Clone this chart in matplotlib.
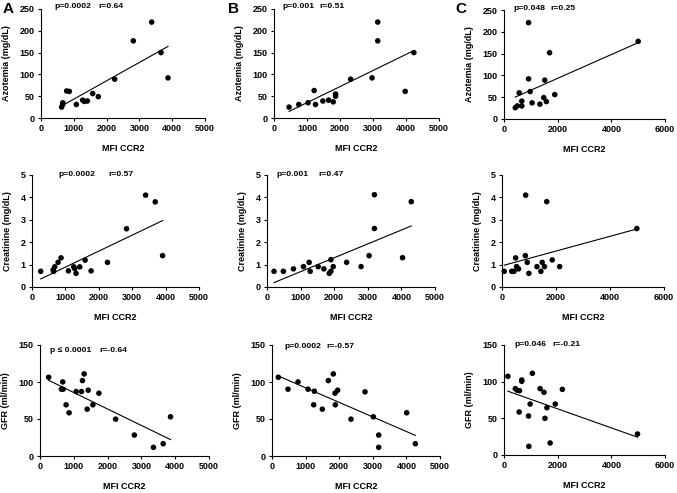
import matplotlib
matplotlib.use('Agg')
import matplotlib.pyplot as plt
import numpy as np

plt.rcParams['font.family'] = ['Liberation Sans', 'DejaVu Sans']
plt.rcParams['font.weight'] = 'bold'
plt.rcParams['axes.labelweight'] = 'bold'

# ---------------------------------Data---------------------------------
# Azotemia (mg/dL) v MFI CCR2
azoA_x = [630, 660, 665, 782, 864, 1077, 1270, 1321, 1413, 1575, 1748, 2246, 2815, 3374, 3658, 3872]
azoA_y = [25, 31, 35, 62, 61, 31, 41, 38, 39, 56, 49, 89, 177, 220, 150, 92]
azoB_x = [456, 751, 1034, 1217, 1258, 1481, 1653, 1795, 1866, 1866, 2323, 2972, 3144, 3144, 3976, 4239]
azoB_y = [25, 31, 35, 63, 31, 39, 41, 37, 50, 55, 89, 92, 220, 177, 61, 150]
azoC_x = [422, 494, 566, 663, 663, 916, 916, 976, 1048, 1337, 1482, 1518, 1578, 1699, 1892, 5000]
azoC_y = [26, 30, 60, 41, 30, 221, 92, 63, 37, 34, 49, 89, 40, 152, 56, 178]

# Creatinine (mg/dL) v MFI CCR2
creA_x = [260, 630, 650, 680, 780, 870, 1090, 1250, 1280, 1320, 1430, 1590, 1770, 2260, 2830, 3400, 3690, 3910]
creA_y = [0.70, 0.76, 0.70, 0.90, 1.10, 1.30, 0.72, 0.90, 0.82, 0.61, 0.90, 1.20, 0.72, 1.10, 2.60, 4.10, 3.80, 1.40]
creB_x = [209, 488, 787, 1086, 1255, 1285, 1524, 1693, 1853, 1902, 1902, 1972, 2370, 2799, 3038, 3197, 3197, 4034, 4293]
creB_y = [0.70, 0.70, 0.81, 0.91, 1.10, 0.70, 0.91, 0.81, 0.61, 0.70, 1.22, 0.91, 1.10, 0.91, 1.40, 4.12, 2.61, 1.31, 3.81]
creC_x = [84, 360, 444, 504, 540, 612, 864, 876, 936, 996, 1296, 1440, 1488, 1572, 1656, 1860, 2136, 4994]
creC_y = [0.70, 0.70, 0.70, 1.30, 0.91, 0.81, 1.40, 4.10, 1.10, 0.61, 0.91, 0.70, 1.10, 0.91, 3.81, 1.21, 0.91, 2.61]

# GFR (ml/min) v MFI CCR2
gfrA_x = [257, 634, 683, 673, 772, 861, 1069, 1228, 1257, 1307, 1396, 1426, 1564, 1743, 2238, 2792, 3356, 3644, 3861]
gfrA_y = [106.4, 90.3, 90.3, 100.1, 69.2, 58.4, 87.1, 87.1, 101.9, 110.9, 63.3, 88.9, 69.2, 84.9, 49.8, 28.3, 11.7, 16.6, 53.0]
gfrB_x = [188, 476, 774, 1071, 1260, 1240, 1498, 1677, 1825, 1875, 1954, 1885, 2351, 2768, 3016, 3175, 3175, 4008, 4266]
gfrB_y = [106.4, 90.3, 100.1, 90.3, 87.6, 69.2, 63.3, 101.9, 110.9, 84.9, 88.9, 69.2, 49.8, 86.7, 53.0, 28.3, 11.7, 58.4, 16.6]
gfrC_x = [144, 421, 493, 577, 565, 661, 661, 913, 925, 974, 1058, 1346, 1490, 1526, 1599, 1719, 1911, 2175, 4976]
gfrC_y = [107.3, 90.5, 88.2, 87.7, 58.6, 102.3, 100.5, 53.2, 11.8, 69.5, 111.4, 90.5, 85.5, 50, 64.5, 16.4, 69.5, 89.5, 28.6]

pLabels = ['p=0.0002', 'p=0.001', 'p=0.048',
           'p=0.0002', 'p=0.001', '',
           'p \u2264 0.0001', 'p=0.0002', 'p=0.046']
rLabels = ['r=0.64', 'r=0.51', 'r=0.25',
           'r=0.57', 'r=0.47', '',
           'r=-0.64', 'r=-0.57', 'r=-0.21']

# Parameters
W, H = 677, 493
fs = 6.5
fsText = 6.1
size = 16
lnwidth = 0.8

fig = plt.figure(figsize=(W/100, H/100), dpi=100)

# axes boxes in pixels: left, right, top, bottom
boxes = [
    (41, 205, 9, 118), (274, 439, 9, 118), (504, 665, 10, 119),
    (32, 199, 175, 287), (267, 435, 175, 287), (502, 664, 175, 287),
    (40, 209, 345, 456), (272, 440, 345, 456), (504, 665, 345, 455),
]
# text positions in pixels: p left, r left, y
textPos = [
    (54, 98, 7), (282, 319, 7), (513, 550, 9),
    (58, 108, 175), (276, 318, 175), (0, 0, 0),
    (50, 99, 350), (284, 326, 346), (514, 552, 344),
]

data = [(azoA_x, azoA_y), (azoB_x, azoB_y), (azoC_x, azoC_y),
        (creA_x, creA_y), (creB_x, creB_y), (creC_x, creC_y),
        (gfrA_x, gfrA_y), (gfrB_x, gfrB_y), (gfrC_x, gfrC_y)]
ylabels = ['Azotemia (mg/dL)'] * 3 + ['Creatinine (mg/dL)'] * 3 + ['GFR (ml/min)'] * 3
ylims = [250] * 3 + [5] * 3 + [150] * 3
yticks = [np.arange(0, 251, 50)] * 3 + [np.arange(0, 6, 1)] * 3 + [np.arange(0, 151, 50)] * 3

for i, (l, r, t, b) in enumerate(boxes):
    ax = fig.add_axes([l/W, 1-b/H, (r-l)/W, (b-t)/H])
    x, y = np.array(data[i][0]), np.array(data[i][1])
    ax.scatter(x, y, s=size, c='black', edgecolors='none', zorder=3, clip_on=False)

    # linear fit
    a, c = np.polyfit(x, y, 1)
    xf = np.array([x.min(), x.max()])
    ax.plot(xf, a*xf + c, 'k-', linewidth=lnwidth)

    col = i % 3
    if col == 2:
        ax.set_xlim(0, 6000)
        ax.set_xticks([0, 2000, 4000, 6000])
    else:
        ax.set_xlim(0, 5000)
        ax.set_xticks(np.arange(0, 5001, 1000))
    ax.set_ylim(0, ylims[i])
    ax.set_yticks(yticks[i])
    for s in ['top', 'right']:
        ax.spines[s].set_visible(False)
    for s in ['left', 'bottom']:
        ax.spines[s].set_linewidth(0.8)
    ax.tick_params(direction='out', length=2.5, width=0.8, labelsize=fs, pad=2)
    for lab in ax.get_xticklabels() + ax.get_yticklabels():
        lab.set_fontweight('bold')
    ax.set_xlabel('MFI CCR2', fontsize=fs, labelpad=8)
    ax.set_ylabel(ylabels[i], fontsize=fs, labelpad=6)

    if pLabels[i]:
        px, rx, ty = textPos[i]
        fig.text(px/W, 1-ty/H, pLabels[i], fontsize=fsText, fontweight='bold', va='center')
        fig.text(rx/W, 1-ty/H, rLabels[i], fontsize=fsText, fontweight='bold', va='center')

# Panel letters
for letter, px in zip(['A', 'B', 'C'], [3, 228, 455]):
    fig.text(px/W, 1-9/H, letter, fontsize=11, fontweight='bold', va='center')

fig.savefig('out.png', dpi=100)
